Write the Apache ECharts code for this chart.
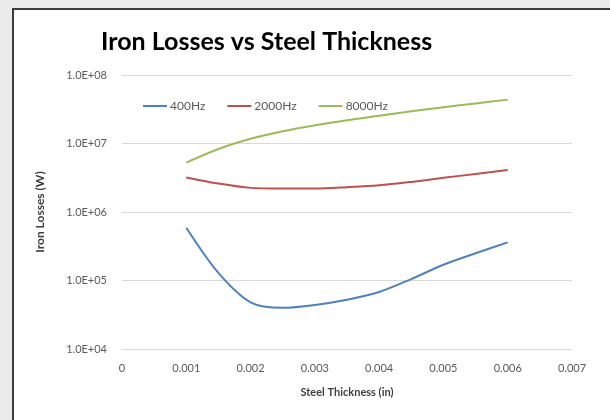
<!DOCTYPE html>
<html>
<head>
<meta charset="utf-8">
<script src="https://cdn.jsdelivr.net/npm/echarts@6/dist/echarts.min.js"></script>
<style>
  html, body { margin: 0; padding: 0; width: 610px; height: 420px; overflow: hidden; background: #ebebeb; }
  #frame { position: absolute; left: 12px; top: 8px; width: 700px; height: 500px; border: 2px solid #3c3c3c; background: #ffffff; }
  #chart { position: absolute; left: 0; top: 0; width: 610px; height: 420px; }
</style>
</head>
<body>
<div id="frame"></div>
<div id="chart"></div>
<script>
// Data
const thickness = [0.001, 0.0015, 0.002, 0.0025, 0.003, 0.0035, 0.004, 0.0045, 0.005, 0.0055, 0.006];
const loss400 = [5.9e5, 1.29e5, 4.8e4, 4.0e4, 4.4e4, 5.25e4, 6.8e4, 1.05e5, 1.7e5, 2.5e5, 3.6e5];
const loss2000 = [3.2e6, 2.6e6, 2.25e6, 2.2e6, 2.2e6, 2.3e6, 2.45e6, 2.75e6, 3.15e6, 3.6e6, 4.1e6];
const loss8000 = [5.25e6, 8.3e6, 1.17e7, 1.51e7, 1.84e7, 2.19e7, 2.54e7, 2.95e7, 3.39e7, 3.85e7, 4.37e7];
const seriesNames = ['400Hz', '2000Hz', '8000Hz'];
const titleText = 'Iron Losses vs Steel Thickness';
const xTitle = 'Steel Thickness (in)';
const yTitle = 'Iron Losses (W)';

const colors = ['#4F81BD', '#C0504D', '#9BBB59'];
const pairs = arr => thickness.map((x, i) => [x, arr[i]]);
const allSeries = [loss400, loss2000, loss8000];

const chart = echarts.init(document.getElementById('chart'), null, { renderer: 'canvas' });
chart.setOption({
  backgroundColor: 'transparent',
  animation: false,
  title: {
    text: titleText,
    left: 96,
    top: 24,
    textStyle: { fontFamily: 'Lato', fontWeight: 'bold', fontSize: 25, color: '#000000' }
  },
  legend: {
    data: seriesNames,
    left: 138,
    top: 95,
    icon: 'rect',
    itemWidth: 24,
    itemHeight: 2,
    itemGap: 22,
    textStyle: { fontFamily: 'Lato', fontSize: 12, color: '#595959', padding: [0, 0, 0, -2] }
  },
  grid: { left: 122, right: 38, top: 75, bottom: 71, containLabel: false },
  xAxis: {
    type: 'value',
    min: 0,
    max: 0.007,
    interval: 0.001,
    name: xTitle,
    nameLocation: 'middle',
    nameGap: 38,
    nameTextStyle: { fontFamily: 'Lato', fontWeight: 'bold', fontSize: 11, color: '#404040' },
    axisLine: { show: true, lineStyle: { color: '#d9d9d9', width: 1 } },
    axisTick: { show: false },
    splitLine: { show: false },
    axisLabel: {
      margin: 14,
      fontFamily: 'Lato', fontSize: 11, color: '#595959',
      formatter: v => String(+v.toFixed(3))
    }
  },
  yAxis: {
    type: 'log',
    logBase: 10,
    min: 1e4,
    max: 1e8,
    name: yTitle,
    nameLocation: 'middle',
    nameGap: 76,
    nameRotate: 90,
    nameTextStyle: { fontFamily: 'Lato', fontWeight: 'bold', fontSize: 12, color: '#404040' },
    axisLine: { show: false },
    axisTick: { show: false },
    splitLine: { show: true, lineStyle: { color: '#d9d9d9', width: 1 } },
    axisLabel: {
      margin: 15,
      fontFamily: 'Lato', fontSize: 11, color: '#595959',
      formatter: v => {
        const e = Math.round(Math.log10(v));
        return '1.0E+' + (e < 10 ? '0' : '') + e;
      }
    }
  },
  series: seriesNames.map((name, i) => ({
    name: name,
    type: 'line',
    data: pairs(allSeries[i]),
    smooth: 0.3,
    showSymbol: false,
    symbol: 'none',
    color: colors[i],
    lineStyle: { width: 2, color: colors[i] }
  }))
});
</script>
</body>
</html>
